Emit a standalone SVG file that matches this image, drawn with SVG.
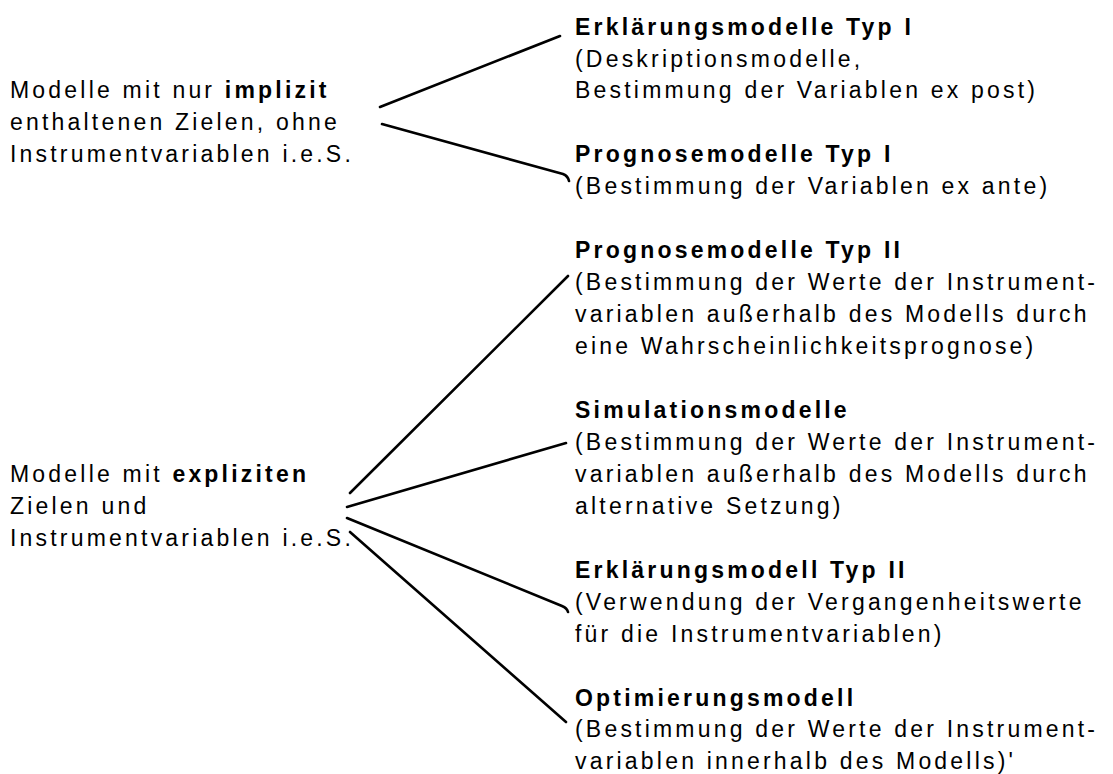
<svg xmlns="http://www.w3.org/2000/svg" width="1113" height="774" viewBox="0 0 1113 774">
<style>
text{font-family:"Liberation Sans",Arial,Helvetica,sans-serif;font-size:23px;letter-spacing:3.2px;fill:#000}
.b{font-weight:bold}
.c{fill:none;stroke:#000;stroke-width:2.6;stroke-linecap:round;stroke-linejoin:round}
</style>
<rect width="1113" height="774" fill="#fff"/>
<g id="connectors">
<path class="c" d="M380,107 L560,36"/>
<path class="c" d="M382,124 L563,174 Q568,176 569,181"/>
<path class="c" d="M350,493 L568,276"/>
<path class="c" d="M347,507 L566,443"/>
<path class="c" d="M347,518 L562,606 Q567,608 568,612"/>
<path class="c" d="M350,532 L566,722"/>
</g>
<g id="implizit">
<text x="10" y="98">Modelle mit nur <tspan class="b">implizit</tspan></text>
<text x="10" y="130">enthaltenen Zielen, ohne</text>
<text x="10" y="162">Instrumentvariablen i.e.S.</text>
</g>
<g id="explizit">
<text x="10" y="482">Modelle mit <tspan class="b">expliziten</tspan></text>
<text x="10" y="514">Zielen und</text>
<text x="10" y="546">Instrumentvariablen i.e.S.</text>
</g>
<g id="erklaerung1">
<text class="b" x="575" y="35">Erklärungsmodelle Typ I</text>
<text x="575" y="67">(Deskriptionsmodelle,</text>
<text x="575" y="98">Bestimmung der Variablen ex post)</text>
</g>
<g id="prognose1">
<text class="b" x="575" y="162">Prognosemodelle Typ I</text>
<text x="575" y="194">(Bestimmung der Variablen ex ante)</text>
</g>
<g id="prognose2">
<text class="b" x="575" y="258">Prognosemodelle Typ II</text>
<text x="575" y="290">(Bestimmung der Werte der Instrument-</text>
<text x="575" y="322">variablen außerhalb des Modells durch</text>
<text x="575" y="354">eine Wahrscheinlichkeitsprognose)</text>
</g>
<g id="simulation">
<text class="b" x="575" y="418">Simulationsmodelle</text>
<text x="575" y="450">(Bestimmung der Werte der Instrument-</text>
<text x="575" y="482">variablen außerhalb des Modells durch</text>
<text x="575" y="514">alternative Setzung)</text>
</g>
<g id="erklaerung2">
<text class="b" x="575" y="578">Erklärungsmodell Typ II</text>
<text x="575" y="610">(Verwendung der Vergangenheitswerte</text>
<text x="575" y="642">für die Instrumentvariablen)</text>
</g>
<g id="optimierung">
<text class="b" x="575" y="706">Optimierungsmodell</text>
<text x="575" y="737">(Bestimmung der Werte der Instrument-</text>
<text x="575" y="769">variablen innerhalb des Modells)'</text>
</g>
</svg>
